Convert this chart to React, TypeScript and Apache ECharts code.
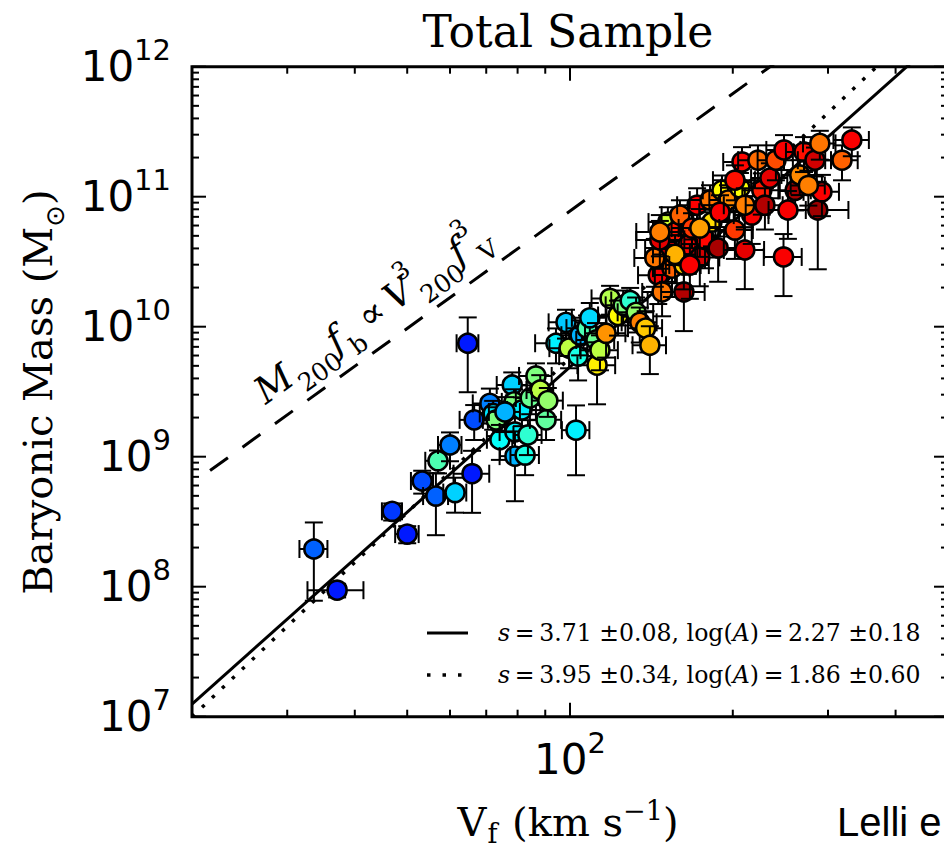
import React, { useEffect, useRef } from 'react';
import * as echarts from 'echarts';

// ---- data ----
const velocity = [
  33.6, 37.1, 46.9, 50.0, 53.3, 56.5, 61.3, 57.0, 60.0, 65.9, 64.7, 66.5, 71.1, 72.1, 73.0, 74.2, 78.2, 78.8, 79.1, 79.1,
  82.6, 81.5, 83.6, 84.4, 86.5, 88.1, 90.3, 91.0, 75.8, 102.6,
  94.2, 98.3, 99.6, 103.5, 104.4, 107.5, 108.8, 111.7, 112.2, 113.6, 116.6, 118.6, 122.7, 125.4, 129.2, 132.5, 134.6, 138.0, 140.5,
  145.6, 148.0, 151.7, 151.7, 154.4, 156.4, 159.7, 162.4, 162.4, 165.2, 168.1, 171.8, 173.8, 177.7, 181.5, 183.0, 187.9, 191.0, 196.0, 201.8,
  206.2, 208.0, 210.5, 216.8, 222.6, 226.3, 234.2, 240.3, 248.7, 248.2, 260.8, 266.0, 270.8, 283.8, 287.2, 289.7, 292.3, 318.4, 332, 201.8,
  143.5, 146.6, 189.4, 210.5, 229.3, 252.9, 275.9, 156.4, 173.8, 166.6, 146.6,
];
const velocityErr = [
  2, 4.4, 2, 2.5, 2.5, 3, 3, 3, 3, 5, 3, 4, 5, 4, 4, 4, 5, 4, 5, 5, 5, 5, 5, 5, 6, 5, 6, 6, 5, 6,
  8, 7, 8, 8, 8, 9, 8, 9, 9, 9, 10, 9, 10, 9, 10, 10, 10, 10, 10,
  12, 12, 14, 12, 12, 14, 12, 15, 12, 14, 14, 14, 15, 15, 15, 14, 16, 15, 15, 16,
  16, 16, 18, 16, 18, 18, 18, 18, 18, 20, 18, 20, 20, 20, 40, 20, 22, 22, 25, 18,
  12, 14, 16, 18, 18, 20, 20, 14, 15, 14, 14,
];
const baryonicMass = [
  1.95e8, 9.4e7, 3.8e8, 2.54e8, 6.5e8, 4.98e8, 5.3e8, 9.3e8, 1.23e9, 7.4e8, 7.46e9, 1.92e9, 2.57e9, 2.15e9, 1.92e9, 1.35e9, 3.56e9, 2.64e9, 1.55e9, 1.01e9,
  1.03e9, 2.29e9, 1.47e9, 2.83e9, 4.18e9, 3.26e9, 1.92e9, 2.7e9, 2.21e9, 1.6e9,
  7.46e9, 1.08e10, 6.84e9, 5.94e9, 8.6e9, 9.75e9, 1.17e10, 7.9e9, 5.06e9, 6.6e9, 8.9e9, 1.65e10, 1.22e10, 1.46e10, 1.59e10, 1.29e10, 1.08e10, 9.75e9, 7.2e9,
  2.49e10, 1.85e10, 4.03e10, 6.38e10, 2.82e10, 5.35e10, 7.22e10, 1.85e10, 2.98e10, 4.25e10, 5.74e10, 8.6e10, 3.41e10, 4.69e10, 9.42e10, 6.38e10, 4.03e10, 1.12e11, 9.42e10, 5.54e10,
  1.17e11, 1.85e11, 3.89e10, 7.22e10, 1.91e11, 1.12e11, 1.39e11, 1.91e11, 2.29e11, 3.44e10, 1.12e11, 1.47e11, 2.21e11, 1.91e11, 7.9e10, 2.57e11, 1.09e11, 1.91e11, 2.73e11, 1.34e11,
  3.38e10, 4.65e10, 7.6e10, 8.6e10, 8.6e10, 7.9e10, 1.22e11, 3.6e10, 5.74e10, 2.98e10, 5.35e10,
];
const massErrFrac = [
  0.6, 0.12, 0.15, 0.15, 0.2, 0.5, 0.3, 0.2, 0.25, 0.5, 0.58, 0.3, 0.3, 0.25, 0.25, 0.3, 0.25, 0.25, 0.3, 0.55,
  0.3, 0.25, 0.3, 0.25, 0.25, 0.3, 0.3, 0.25, 0.3, 0.55,
  0.3, 0.25, 0.3, 0.35, 0.3, 0.25, 0.3, 0.35, 0.5, 0.3, 0.35, 0.25, 0.3, 0.3, 0.25, 0.3, 0.3, 0.35, 0.4,
  0.4, 0.35, 0.45, 0.3, 0.4, 0.35, 0.3, 0.5, 0.35, 0.4, 0.3, 0.35, 0.4, 0.4, 0.3, 0.35, 0.45, 0.3, 0.3, 0.4,
  0.3, 0.3, 0.5, 0.4, 0.3, 0.35, 0.3, 0.3, 0.3, 0.5, 0.3, 0.3, 0.3, 0.25, 0.65, 0.25, 0.35, 0.3, 0.25, 0.3,
  0.4, 0.4, 0.35, 0.35, 0.35, 0.4, 0.3, 0.4, 0.4, 0.45, 0.35,
];
const colorValue = [
  0.22, 0.15, 0.18, 0.15, 0.2, 0.22, 0.33, 0.45, 0.25, 0.15, 0.15, 0.2, 0.25, 0.35, 0.5, 0.38, 0.33, 0.5, 0.36, 0.3,
  0.4, 0.36, 0.42, 0.48, 0.5, 0.56, 0.47, 0.52, 0.3, 0.36,
  0.36, 0.32, 0.56, 0.4, 0.3, 0.45, 0.34, 0.48, 0.64, 0.56, 0.73, 0.55, 0.63, 0.5, 0.42, 0.52, 0.75, 0.68, 0.7,
  0.88, 0.76, 0.9, 0.58, 0.78, 0.85, 0.78, 0.95, 0.67, 0.87, 0.82, 0.88, 0.92, 0.87, 0.76, 0.66, 0.96, 0.63, 0.74, 0.82,
  0.62, 0.87, 0.9, 0.88, 0.77, 0.85, 0.9, 0.8, 0.88, 0.88, 0.96, 0.74, 0.86, 0.92, 0.97, 0.76, 0.88, 0.78, 0.88, 0.86,
  0.76, 0.9, 0.88, 0.75, 0.95, 0.88, 0.75, 0.7, 0.72, 0.88, 0.75,
];

const xMajorTicks = [100];
const xMinorTicks = [30, 40, 50, 60, 70, 80, 90, 200, 300, 400];
const yMajorTicks = [1e7, 1e8, 1e9, 1e10, 1e11, 1e12];
const yMinorFactors = [2, 3, 4, 5, 6, 7, 8, 9];

const fitSlopes = [3.71, 3.95];
const fitSlopeErrs = [0.08, 0.34];
const fitLogA = [2.27, 1.86];
const fitLogAErrs = [0.18, 0.6];
const fitVRange = [20, 500];

const haloSlope = 3;
const haloLogNorm = 4.89;
const haloVRange = [21.6, 500];

const jet = ['#00007f', '#0000ff', '#007fff', '#00ffff', '#7fff7f', '#ffff00', '#ff7f00', '#ff0000', '#7f0000'];

const SERIF = '"DejaVu Serif", serif';
const SANS = '"DejaVu Sans", sans-serif';

function powLabel(v: number) {
  const e = Math.log10(v);
  const r = Math.round(e);
  if (Math.abs(e - r) > 1e-6) return '';
  return `{b|10}{s|${r}}`;
}

const powRich = {
  b: { fontSize: 42, fontFamily: SANS, color: '#000', lineHeight: 62 },
  s: { fontSize: 29, fontFamily: SANS, color: '#000', lineHeight: 20, verticalAlign: 'top' },
};

export default function App() {
  const ref = useRef<HTMLDivElement>(null);
  useEffect(() => {
    document.body.style.margin = '0';
    const chart = echarts.init(ref.current!, null, { renderer: 'svg' });

    const points = velocity.map((v, i) => [v, baryonicMass[i], velocityErr[i], massErrFrac[i], colorValue[i]]);

    const tickData: number[][] = [];
    xMajorTicks.forEach((v) => tickData.push([v, 1e9, 0, 1]));
    xMinorTicks.forEach((v) => tickData.push([v, 1e9, 0, 0]));
    yMajorTicks.forEach((m) => tickData.push([100, m, 1, 1]));
    yMajorTicks.slice(0, -1).forEach((m) => yMinorFactors.forEach((f) => tickData.push([100, m * f, 1, 0])));

    const fitLine = (k: number) =>
      fitVRange.map((v) => [v, Math.pow(10, fitSlopes[k] * Math.log10(v) + fitLogA[k])]);
    const haloLine = haloVRange.map((v) => [v, Math.pow(10, haloSlope * Math.log10(v) + haloLogNorm)]);

    const legendY = [633, 675];
    const legendGraphics: any[] = [];
    fitSlopes.forEach((s, k) => {
      legendGraphics.push({
        type: 'line',
        shape: { x1: 427, y1: legendY[k], x2: k === 0 ? 468 : 462, y2: legendY[k] },
        style: k === 0 ? { stroke: '#000', lineWidth: 3 } : { stroke: '#000', lineWidth: 3.5, lineDash: [3.5, 12] },
      });
      legendGraphics.push({
        type: 'text',
        x: 498,
        y: legendY[k],
        style: {
          text: `{i|s}{t|\u2009=\u2009${s.toFixed(2)} \u00b1${fitSlopeErrs[k].toFixed(2)}, log(}{i|A}{t|)\u2009=\u2009${fitLogA[k].toFixed(2)} \u00b1${fitLogAErrs[k].toFixed(2)}}`,
          verticalAlign: 'middle',
          align: 'left',
          rich: {
            i: { fontFamily: SERIF, fontStyle: 'italic', fontSize: 23.6, fill: '#000' },
            t: { fontFamily: SERIF, fontSize: 23.6, fill: '#000' },
          },
        },
      });
    });

    const option: any = {
      animation: false,
      backgroundColor: '#fff',
      grid: {
        left: 192,
        top: 66.7,
        width: 756,
        height: 650,
        show: true,
        borderColor: '#000',
        borderWidth: 3,
        outerBoundsMode: 'none',
        containLabel: false,
      },
      xAxis: {
        type: 'log',
        logBase: 10,
        min: 20,
        max: 500,
        axisLine: { show: false },
        axisTick: { show: false },
        splitLine: { show: false },
        axisLabel: { formatter: powLabel, margin: 12, rich: powRich, showMinLabel: false, showMaxLabel: false },
      },
      yAxis: {
        type: 'log',
        logBase: 10,
        min: 1e7,
        max: 1e12,
        axisLine: { show: false },
        axisTick: { show: false },
        splitLine: { show: false },
        axisLabel: { formatter: powLabel, margin: 21, rich: powRich },
      },
      visualMap: {
        show: false,
        type: 'continuous',
        seriesIndex: 3,
        dimension: 4,
        min: 0,
        max: 1,
        inRange: { color: jet },
      },
      series: [
        {
          type: 'line',
          data: fitLine(0),
          symbol: 'none',
          clip: true,
          z: 2,
          lineStyle: { color: '#000', width: 3, type: 'solid' },
        },
        {
          type: 'line',
          data: fitLine(1),
          symbol: 'none',
          clip: true,
          z: 2,
          lineStyle: { color: '#000', width: 3.5, type: [3.5, 10.3] },
        },
        {
          type: 'line',
          data: haloLine,
          symbol: 'none',
          clip: true,
          z: 2,
          lineStyle: { color: '#000', width: 3, type: [22, 18] },
        },
        {
          type: 'custom',
          data: points,
          encode: { x: 0, y: 1 },
          clip: false,
          z: 3,
          renderItem: (params: any, api: any) => {
            const v = api.value(0);
            const m = api.value(1);
            const ev = api.value(2);
            const f = api.value(3);
            const c = api.coord([v, m]);
            const l = api.coord([v - ev, m]);
            const r = api.coord([v + ev, m]);
            const lo = api.coord([v, m * (1 - f)]);
            const hi = api.coord([v, m * (1 + f)]);
            const cap = 9;
            const st = { stroke: '#000', lineWidth: 2 };
            return {
              type: 'group',
              children: [
                { type: 'line', shape: { x1: l[0], y1: c[1], x2: r[0], y2: c[1] }, style: st },
                { type: 'line', shape: { x1: l[0], y1: c[1] - cap, x2: l[0], y2: c[1] + cap }, style: st },
                { type: 'line', shape: { x1: r[0], y1: c[1] - cap, x2: r[0], y2: c[1] + cap }, style: st },
                { type: 'line', shape: { x1: c[0], y1: lo[1], x2: c[0], y2: hi[1] }, style: st },
                { type: 'line', shape: { x1: c[0] - cap, y1: lo[1], x2: c[0] + cap, y2: lo[1] }, style: st },
                { type: 'line', shape: { x1: c[0] - cap, y1: hi[1], x2: c[0] + cap, y2: hi[1] }, style: st },
                {
                  type: 'circle',
                  shape: { cx: c[0], cy: c[1], r: 9.5 },
                  style: { fill: api.visual('color'), stroke: '#000', lineWidth: 2.6 },
                },
              ],
            };
          },
        },
        {
          type: 'custom',
          data: tickData,
          encode: { x: 0, y: 1 },
          clip: false,
          silent: true,
          z: 4,
          renderItem: (params: any, api: any) => {
            const cs = params.coordSys;
            const axis = api.value(2);
            const len = api.value(3) ? 14 : 7;
            const p = api.coord([api.value(0), api.value(1)]);
            const st = { stroke: '#000', lineWidth: 2 };
            if (axis === 0) {
              const yb = cs.y + cs.height;
              const yt = cs.y;
              return {
                type: 'group',
                children: [
                  { type: 'line', shape: { x1: p[0], y1: yb, x2: p[0], y2: yb - len }, style: st },
                  { type: 'line', shape: { x1: p[0], y1: yt, x2: p[0], y2: yt + len }, style: st },
                ],
              };
            }
            const xl = cs.x;
            const xr = cs.x + cs.width;
            return {
              type: 'group',
              children: [
                { type: 'line', shape: { x1: xl, y1: p[1], x2: xl + len, y2: p[1] }, style: st },
                { type: 'line', shape: { x1: xr, y1: p[1], x2: xr - len, y2: p[1] }, style: st },
              ],
            };
          },
        },
      ],
      graphic: [
        {
          type: 'text',
          x: 568,
          y: 31,
          style: { text: 'Total Sample', fontFamily: SERIF, fontSize: 44, fill: '#000', align: 'center', verticalAlign: 'middle' },
        },
        {
          type: 'text',
          x: 38,
          y: 392,
          rotation: Math.PI / 2,
          style: {
            text: '{t|Baryonic Mass (M}{sb|\u2299}{t|)}',
            align: 'center',
            verticalAlign: 'middle',
            rich: {
              t: { fontFamily: SERIF, fontSize: 40, fill: '#000', lineHeight: 60 },
              sb: { fontFamily: SANS, fontSize: 26, fill: '#000', lineHeight: 28, verticalAlign: 'bottom' },
            },
          },
        },
        {
          type: 'text',
          x: 568,
          y: 822,
          style: {
            text: '{t|V}{sb|f}{t| (km s}{sp|\u22121}{t|)}',
            align: 'center',
            verticalAlign: 'middle',
            rich: {
              t: { fontFamily: SERIF, fontSize: 40, fill: '#000', lineHeight: 50 },
              sb: { fontFamily: SERIF, fontSize: 27, fill: '#000', lineHeight: 12, verticalAlign: 'bottom', padding: [0, 2, 0, 1] },
              sp: { fontFamily: SERIF, fontSize: 27, fill: '#000', lineHeight: 14, verticalAlign: 'top' },
            },
          },
        },
        {
          type: 'text',
          x: 372,
          y: 313,
          rotation: Math.atan((haloSlope * 130) / 541),
          style: {
            text: '{i|M}{sb|200}{i|f}{sb|b}{o|\u2009\u221d\u2009}{i|V}{sp|3}{sb|200}{i|f}{sp2|3}{sb|V}',
            align: 'center',
            verticalAlign: 'middle',
            rich: {
              i: { fontFamily: SERIF, fontStyle: 'italic', fontSize: 37, fill: '#000', lineHeight: 60 },
              o: { fontFamily: SERIF, fontSize: 37, fill: '#000', lineHeight: 60 },
              sb: { fontFamily: SERIF, fontSize: 25, fill: '#000', lineHeight: 24, verticalAlign: 'bottom', padding: [0, 0, 0, 2] },
              sp: { fontFamily: SERIF, fontSize: 25, fill: '#000', lineHeight: 24, verticalAlign: 'top', width: 1, padding: [0, 0, 0, 2] },
              sp2: { fontFamily: SERIF, fontSize: 25, fill: '#000', lineHeight: 24, verticalAlign: 'top', width: 1, padding: [0, 0, 0, 7] },
            },
          },
        },
        {
          type: 'text',
          x: 837,
          y: 822,
          style: { text: 'Lelli e', fontFamily: '"Liberation Sans", Arial, sans-serif', fontSize: 40, fill: '#000', align: 'left', verticalAlign: 'middle' },
        },
        ...legendGraphics,
      ],
    };
    chart.setOption(option);
    return () => chart.dispose();
  }, []);
  return <div ref={ref} style={{ width: 944, height: 853, overflow: 'hidden' }} />;
}
